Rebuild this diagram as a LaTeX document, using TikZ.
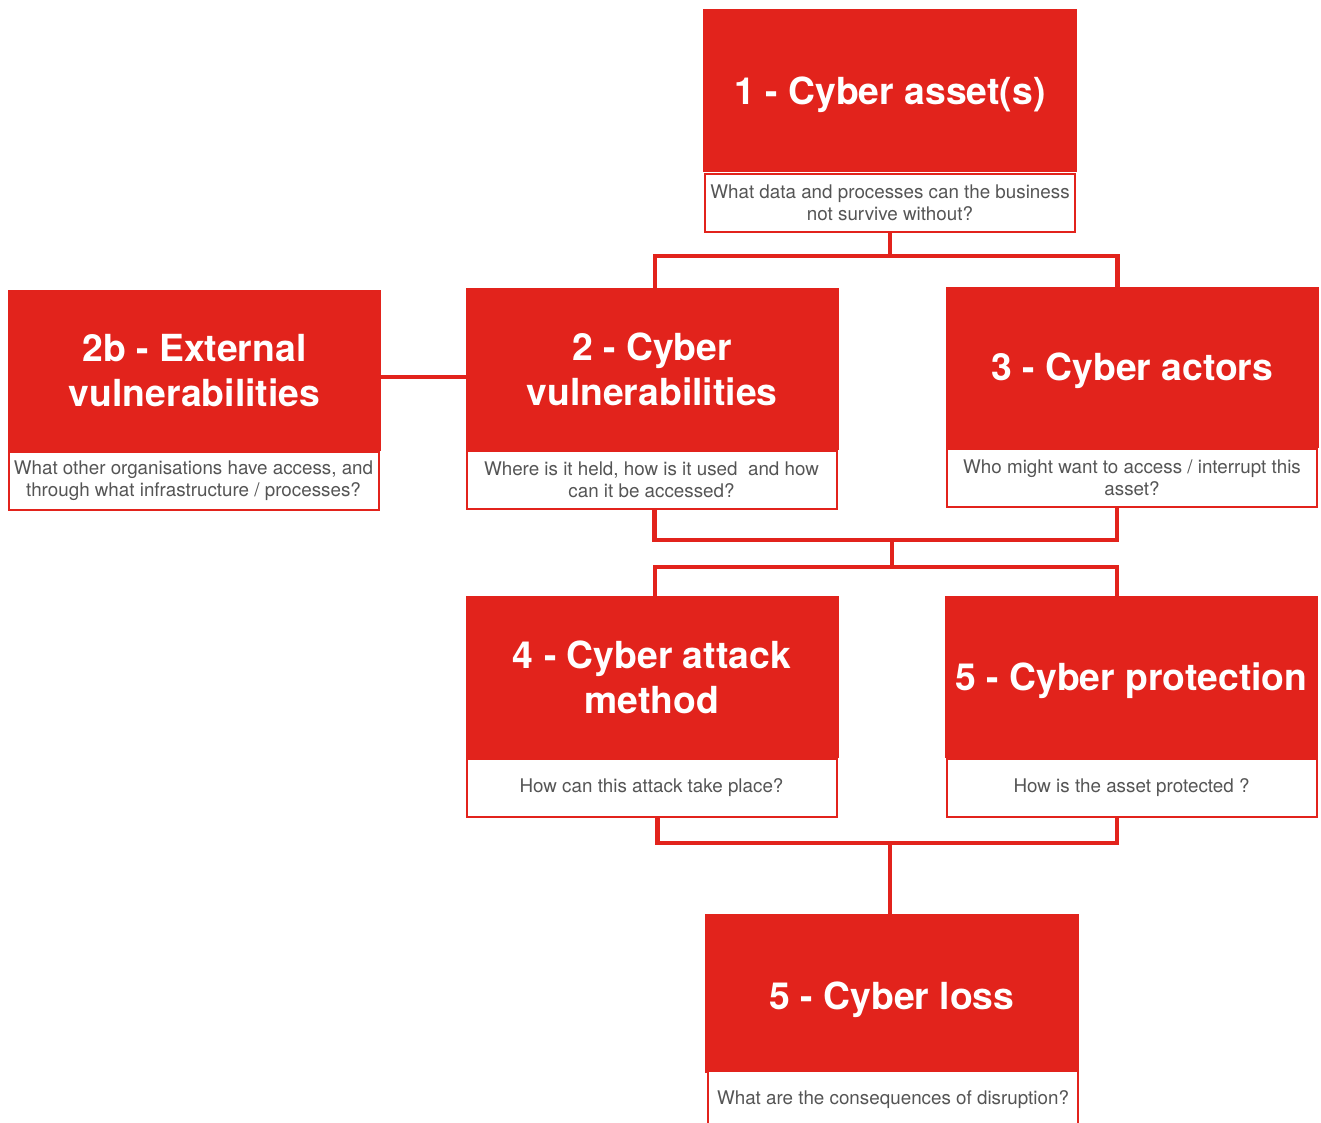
\documentclass[tikz,border=0pt]{standalone}
\usepackage{fontspec}
\setmainfont{TeX Gyre Heros}
\definecolor{cred}{HTML}{E2231C}
\definecolor{cgray}{HTML}{555555}
\newcommand{\lowered}[2]{\raisebox{-#1}[0pt][0pt]{#2}}
\begin{document}
\begin{tikzpicture}[x=1pt,y=-1pt,
  titlebox/.style={fill=cred, text=white, font=\bfseries\fontsize{37.3}{45}\selectfont,
    align=center, inner sep=0pt, outer sep=0pt, minimum width=373pt, minimum height=162pt},
  subbox/.style={fill=white, draw=cred, line width=2pt, text=cgray,
    font=\fontsize{18.8}{22}\selectfont, align=center, inner sep=0pt, outer sep=0pt,
    minimum width=370pt, minimum height=58pt},
  conn/.style={draw=cred, line width=4.5pt}]
\useasboundingbox (0,0) rectangle (1321,1122);
\clip (0,0) rectangle (1321,1122);
\fill[white] (0,0) rectangle (1321,1122);

% boxes
\node[titlebox, minimum width=374pt, minimum height=163pt] (b1) at (890,90.5) {\lowered{14pt}{1 - Cyber asset(s)}};
\node[subbox] (s1) at (890,203) {What data and processes can the business\\not survive without?};

\node[titlebox, minimum height=161pt] (b2b) at (194.5,370.5) {2b - External\\vulnerabilities};
\node[subbox] (s2b) at (193.5,480.5) {What other organisations have access, and\\through what infrastructure / processes?};

\node[titlebox] (b2) at (652,369) {2 - Cyber\\vulnerabilities};
\node[subbox] (s2) at (651.5,480) {Where is it held, how is it used\ \ and how\\can it be accessed?};

\node[titlebox, minimum height=161pt] (b3) at (1132.5,367.5) {\lowered{13pt}{3 - Cyber actors}};
\node[subbox] (s3) at (1132,478) {Who might want to access / interrupt this\\asset?};

\node[titlebox] (b4) at (652,677) {4 - Cyber attack\\method};
\node[subbox] (s4) at (651.5,787.5) {How can this attack take place?};

\node[titlebox] (b5) at (1131.5,677) {\lowered{13.5pt}{5 - Cyber protection}};
\node[subbox] (s5) at (1131.5,787.5) {How is the asset protected ?};

\node[titlebox, minimum width=374pt, minimum height=159pt] (b6) at (892,993.5) {\lowered{16pt}{5 - Cyber loss}};
\node[subbox, anchor=north, minimum height=64pt] (s6) at (893,1071) {\lowered{1pt}{What are the consequences of disruption?}};

% junctions
\coordinate (j1) at (890,256);
\coordinate (j2) at (892,540);
\coordinate (j3) at (892,567);
\coordinate (j4) at (890,843);

% connectors
\draw[conn] (s1.south) -- (j1);
\draw[conn] ([xshift=3pt]b2.north) |- (j1) -| ([xshift=-15pt]b3.north);
\draw[conn] ([yshift=-6.5pt]b2b.east) -- ([yshift=-6.5pt]b2b.east -| b2.west);
\draw[conn] ([xshift=3pt]s2.south) |- (j2) -| ([xshift=-15pt]s3.south);
\draw[conn] (j2) -- (j3);
\draw[conn] ([xshift=3pt]b4.north) |- (j3) -| ([xshift=-14.5pt]b5.north);
\draw[conn] ([xshift=6pt]s4.south) |- (j4) -| ([xshift=-14.5pt]s5.south);
\draw[conn] (j4) -- (j4 |- b6.north);
\end{tikzpicture}
\end{document}
